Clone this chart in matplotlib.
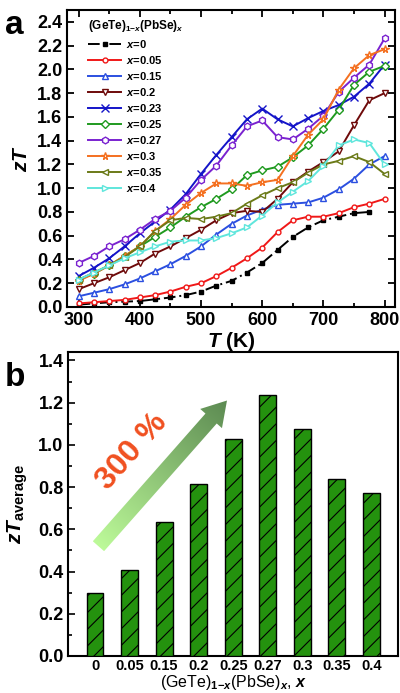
import numpy as np
import matplotlib
matplotlib.use("Agg")
import matplotlib.pyplot as plt
from matplotlib.ticker import MultipleLocator
from matplotlib.patches import Polygon

plt.rcParams['font.family'] = ['Liberation Sans', 'DejaVu Sans']
plt.rcParams['font.weight'] = 'bold'
plt.rcParams['mathtext.fontset'] = 'custom'
plt.rcParams['mathtext.rm'] = 'Liberation Sans:bold'
plt.rcParams['mathtext.it'] = 'Liberation Sans:bold:italic'
plt.rcParams['mathtext.bf'] = 'Liberation Sans:bold'
plt.rcParams['hatch.linewidth'] = 0.8

# ---------------- data: panel a ----------------
T = [300, 325, 350, 375, 400, 425, 450, 475, 500, 525, 550,
     575, 600, 625, 650, 675, 700, 725, 750, 775, 800]
T0 = T[:-1]

zt_x0 = [0.02, 0.03, 0.04, 0.045, 0.05, 0.065, 0.08, 0.10, 0.13, 0.18,
         0.22, 0.29, 0.37, 0.48, 0.59, 0.67, 0.73, 0.76, 0.79, 0.80]
zt_x005 = [0.03, 0.04, 0.05, 0.06, 0.08, 0.10, 0.13, 0.17, 0.20, 0.26, 0.33,
           0.41, 0.50, 0.63, 0.73, 0.76, 0.76, 0.79, 0.84, 0.87, 0.91]
zt_x015 = [0.09, 0.12, 0.15, 0.19, 0.24, 0.30, 0.36, 0.43, 0.51, 0.61, 0.70,
           0.77, 0.82, 0.86, 0.87, 0.88, 0.92, 0.99, 1.08, 1.20, 1.27]
zt_x02 = [0.15, 0.20, 0.25, 0.31, 0.37, 0.45, 0.51, 0.58, 0.65, 0.73, 0.79,
          0.81, 0.80, 0.91, 1.05, 1.14, 1.22, 1.31, 1.53, 1.74, 1.80]
zt_x023 = [0.26, 0.33, 0.41, 0.51, 0.62, 0.72, 0.82, 0.95, 1.12, 1.28, 1.43,
           1.58, 1.67, 1.58, 1.52, 1.59, 1.65, 1.70, 1.77, 1.88, 2.04]
zt_x025 = [0.23, 0.28, 0.35, 0.43, 0.51, 0.59, 0.67, 0.76, 0.84, 0.91, 0.99,
           1.11, 1.15, 1.18, 1.26, 1.36, 1.50, 1.66, 1.87, 1.98, 2.03]
zt_x027 = [0.37, 0.43, 0.51, 0.57, 0.65, 0.74, 0.81, 0.92, 1.07, 1.19, 1.36,
           1.52, 1.57, 1.43, 1.41, 1.50, 1.61, 1.81, 1.93, 2.04, 2.26]
zt_x03 = [0.22, 0.28, 0.35, 0.43, 0.51, 0.64, 0.74, 0.86, 0.96, 1.04, 1.04,
          1.02, 1.05, 1.07, 1.27, 1.45, 1.58, 1.83, 2.01, 2.12, 2.17]
zt_x035 = [0.23, 0.29, 0.35, 0.42, 0.51, 0.64, 0.73, 0.75, 0.74, 0.76, 0.79,
           0.87, 0.94, 1.00, 1.05, 1.13, 1.20, 1.23, 1.27, 1.22, 1.12]
zt_x04 = [0.23, 0.29, 0.35, 0.41, 0.46, 0.51, 0.55, 0.56, 0.56, 0.58, 0.62,
          0.67, 0.77, 0.88, 0.97, 1.06, 1.19, 1.36, 1.41, 1.38, 1.20]

series_labels = ['0', '0.05', '0.15', '0.2', '0.23', '0.25', '0.27', '0.3', '0.35', '0.4']

# ---------------- data: panel b ----------------
bar_labels = ['0', '0.05', '0.15', '0.2', '0.25', '0.27', '0.3', '0.35', '0.4']
zt_avg = [0.298, 0.407, 0.633, 0.816, 1.029, 1.234, 1.076, 0.838, 0.774]

fig = plt.figure(figsize=(4.0, 6.93), dpi=100)

# ---------------- panel a ----------------
ax = fig.add_axes([0.1675, 0.557, 0.82, 0.4286])
styles = [
    dict(color='black', marker='s', ls=(0, (6, 2, 1, 2)), ms=2.2),
    dict(color='#f01818', marker='o', ls='-', ms=3.5),
    dict(color='#2b4fe0', marker='^', ls='-', ms=4.5),
    dict(color='#6e0a0a', marker='v', ls='-', ms=4.5),
    dict(color='#1414c8', marker='x', ls='-', ms=5.5),
    dict(color='#1f9a1f', marker='D', ls='-', ms=3.8),
    dict(color='#7a22d0', marker='h', ls='-', ms=4.8),
    dict(color='#f47020', marker='*', ls='-', ms=5.5),
    dict(color='#6b7a18', marker='<', ls='-', ms=4.5),
    dict(color='#5fe6dc', marker='>', ls='-', ms=4.5),
]
all_series = [zt_x0, zt_x005, zt_x015, zt_x02, zt_x023, zt_x025,
              zt_x027, zt_x03, zt_x035, zt_x04]
for lab, ys, st in zip(series_labels, all_series, styles):
    xs = T0 if len(ys) == len(T0) else T
    ax.plot(xs, ys, color=st['color'], marker=st['marker'], ls=st['ls'],
            ms=st['ms'], lw=1.4, mfc='white' if st['marker'] not in ('x', 's') else st['color'],
            mew=1.0, label=r'$x$=' + lab)

ax.set_xlim(281, 817)
ax.set_ylim(0, 2.5)
ax.xaxis.set_major_locator(MultipleLocator(100))
ax.xaxis.set_minor_locator(MultipleLocator(50))
ax.yaxis.set_major_locator(MultipleLocator(0.2))
ax.yaxis.set_major_formatter(matplotlib.ticker.FormatStrFormatter('%.1f'))
ax.tick_params(which='both', direction='in', top=True, right=True, width=1.3)
ax.tick_params(which='major', length=5, labelsize=13)
ax.tick_params(which='minor', length=3)
for sp in ax.spines.values():
    sp.set_linewidth(1.5)
ax.set_xlabel(r'$T$ (K)', fontsize=15, fontweight='bold', labelpad=1)
ax.set_ylabel(r'$zT$', fontsize=15, fontweight='bold', labelpad=4)
leg = ax.legend(loc='upper left', bbox_to_anchor=(0.04, 1.0), frameon=False,
                fontsize=8, title=r'(GeTe)$_{1\mathrm{-}x}$(PbSe)$_x$',
                title_fontsize=8.5, handlelength=3.0, labelspacing=0.36,
                handletextpad=0.4, borderaxespad=0.3)
leg._legend_box.align = 'left'
fig.text(0.012, 0.985, 'a', fontsize=24, fontweight='bold', va='top')

# ---------------- panel b ----------------
bx = fig.add_axes([0.171, 0.0534, 0.824, 0.4387])
pos = np.arange(len(bar_labels))
bx.bar(pos, zt_avg, width=0.49, color='#24920e', edgecolor='black',
       linewidth=1.0, hatch='//', zorder=3)
bx.set_xlim(-0.77, 8.77)
bx.set_ylim(0, 1.44)
bx.set_xticks(pos)
bx.set_xticklabels(bar_labels, fontsize=10.5)
bx.tick_params(axis='x', length=0, pad=2)
bx.yaxis.set_major_locator(MultipleLocator(0.2))
bx.yaxis.set_minor_locator(MultipleLocator(0.1))
bx.yaxis.set_major_formatter(matplotlib.ticker.FormatStrFormatter('%.1f'))
bx.tick_params(axis='y', which='both', direction='in', labelsize=13, width=1.2)
bx.tick_params(axis='y', which='major', length=5)
bx.tick_params(axis='y', which='minor', length=3)
for sp in bx.spines.values():
    sp.set_linewidth(1.5)
bx.set_xlabel(r'(GeTe)$_{1\mathrm{-}x}$(PbSe)$_x$, $x$', fontsize=11.5, labelpad=0)
bx.set_ylabel(r'$zT_{\mathrm{average}}$', fontsize=15, labelpad=6)
fig.text(0.012, 0.478, 'b', fontsize=24, fontweight='bold', va='top')

# gradient arrow
fig.canvas.draw()
tail = np.array([0.10, 0.52])
head = np.array([3.82, 1.21])
tp = bx.transData.transform(tail)
hp = bx.transData.transform(head)
d = hp - tp
L = np.hypot(*d)
u = d / L
n = np.array([-u[1], u[0]])
sw, hw, hl = 7.5, 14.5, 24.0
base = hp - u * hl
verts_px = [tp + n * sw, base + n * sw, base + n * hw, hp,
            base - n * hw, base - n * sw, tp - n * sw]
verts = bx.transData.inverted().transform(np.array(verts_px))
poly = Polygon(verts, closed=True, transform=bx.transData, facecolor='none',
               edgecolor='none')
bx.add_patch(poly)
xmin, ymin = verts.min(axis=0)
xmax, ymax = verts.max(axis=0)
gx = np.linspace(xmin, xmax, 300)
gy = np.linspace(ymin, ymax, 300)
GX, GY = np.meshgrid(gx, gy)
P = bx.transData.transform(np.column_stack([GX.ravel(), GY.ravel()]))
t = ((P - tp) @ u) / L
t = np.clip(t, 0, 1).reshape(GX.shape)
c0 = np.array([0.74, 0.98, 0.60])
c1 = np.array([0.36, 0.54, 0.32])
img = c0[None, None, :] * (1 - t[..., None]) + c1[None, None, :] * t[..., None]
im = bx.imshow(img, extent=(xmin, xmax, ymin, ymax), origin='lower',
               aspect='auto', zorder=4, interpolation='bilinear')
im.set_clip_path(poly)
bx.set_xlim(-0.77, 8.77)
bx.set_ylim(0, 1.44)
ang = np.degrees(np.arctan2(d[1], d[0]))
bx.text(1.08, 0.97, '300 %', color='#f05020', fontsize=23, fontweight='bold',
        rotation=ang, ha='center', va='center', zorder=5,
        rotation_mode='anchor')

fig.savefig('out.png', dpi=100)
